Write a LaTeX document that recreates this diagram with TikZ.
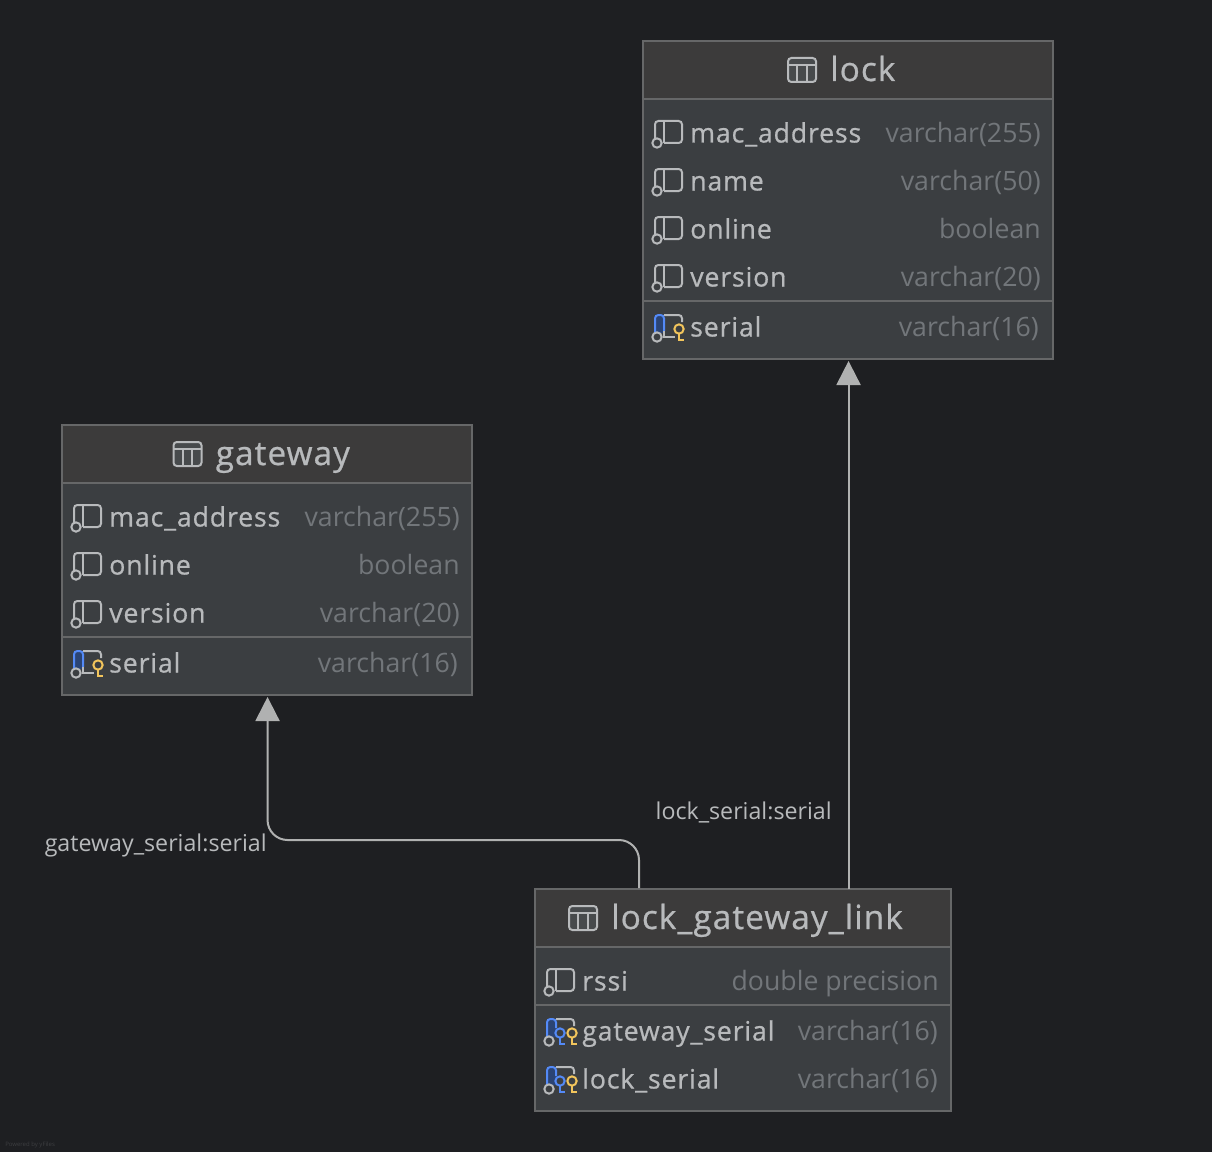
\documentclass[tikz,border=0pt]{standalone}
\usepackage{fontspec}
\setmainfont[LetterSpace=0.1]{Open Sans}
\newfontfamily\namefont[LetterSpace=3.2,FakeBold=0.7]{Open Sans}
\newfontfamily\edgefont{Open Sans}
\usetikzlibrary{arrows.meta}

\definecolor{canvas}{HTML}{1E1F22}
\definecolor{headfill}{HTML}{3C3B3B}
\definecolor{bodyfill}{HTML}{3B3E41}
\definecolor{frame}{HTML}{666768}
\definecolor{labeltext}{HTML}{B8BABC}
\definecolor{typetext}{HTML}{72767A}
\definecolor{edgeline}{HTML}{B0B1B1}
\definecolor{keyblue}{HTML}{548AF7}
\definecolor{keyfill}{HTML}{2B4474}
\definecolor{keyyellow}{HTML}{F2C55C}

\tikzset{
  tablebody/.style={draw=frame, line width=1.5pt, fill=bodyfill, inner sep=0pt, outer sep=0pt, anchor=north west},
  tablehead/.style={draw=frame, line width=1.5pt, fill=headfill, inner sep=0pt, outer sep=0pt, anchor=north west},
  titletext/.style={inner sep=0pt, anchor=base west, text=labeltext, font=\namefont\fontsize{25}{29}\selectfont},
  colname/.style={inner sep=0pt, anchor=base west, text=labeltext, font=\namefont\fontsize{20}{24}\selectfont},
  coltype/.style={inner sep=0pt, anchor=base east, text=typetext, font=\fontsize{20}{24}\selectfont},
  edgetext/.style={inner sep=0pt, text=labeltext, font=\edgefont\fontsize{17.4}{21}\selectfont},
  icon/.style={draw=labeltext, line width=1.5pt},
  relation/.style={draw=edgeline, line width=1.5pt, -{Triangle[width=18pt,length=18pt,fill=edgeline]}, shorten >=1.5pt},
}

% table frame with its title band
\newcommand{\tablebox}[5]{
  \node[tablebody, minimum width=#4*0.75pt, minimum height=#5*0.75pt] (#1) at (#2,#3) {};
  \node[tablehead, minimum width=#4*0.75pt, minimum height=58*0.75pt] (#1head) at (#2,#3) {};
}
\newcommand{\tabletitle}[4]{
  \node[titletext] (#1title) at (#3,#4+11) {#2};
  \begin{scope}[shift={(#3-42,#4)}]
    \draw[icon, fill=white!6!bodyfill, rounded corners=2.5pt] (0,-12) rectangle (28,12);
    \draw[icon] (0,-5) -- (28,-5);
    \draw[icon] (9.3,-5) -- (9.3,12);
    \draw[icon] (18.7,-5) -- (18.7,12);
  \end{scope}
}
% plain column
\newcommand{\plainicon}[2]{
  \begin{scope}[shift={(#1,#2)}]
    \draw[icon, rounded corners=2.5pt] (12,6) -- (12,-12) -- (39,-12) -- (39,10) -- (21,10);
    \draw[icon] (21,-12) -- (21,10);
    \draw[icon, fill=bodyfill] (14,10) circle (3.5pt);
  \end{scope}
}
% column with a primary key
\newcommand{\keyicon}[2]{
  \begin{scope}[shift={(#1,#2)}]
    \fill[keyfill] (12,6) -- (12,-12) -- (21,-12) -- (21,6) -- cycle;
    \draw[icon, draw=keyblue, rounded corners=2.5pt] (12,6) -- (12,-12) -- (21,-12) -- (21,4);
    \draw[icon, rounded corners=2.5pt] (21,-12) -- (39,-12) -- (39,-5);
    \draw[icon] (21,4) -- (21,10) -- (32,10);
    \draw[icon, fill=bodyfill] (14,10) circle (3.5pt);
    \draw[icon, draw=keyyellow] (36,2) circle (3.5pt);
    \draw[icon, draw=keyyellow] (36,6.5) -- (36,14) (36,12.5) -- (41,12.5);
  \end{scope}
}
% column with a primary and a foreign key
\newcommand{\bothicon}[2]{
  \begin{scope}[shift={(#1,#2)}]
    \fill[keyfill] (12,6) -- (12,-12) -- (21,-12) -- (21,-3) -- (21,6) -- cycle;
    \draw[icon, draw=keyblue, rounded corners=2.5pt] (12,6) -- (12,-12) -- (21,-12) -- (21,-3);
    \draw[icon, rounded corners=2.5pt] (21,-12) -- (39,-12) -- (39,-5);
    \draw[icon, fill=bodyfill] (14,10) circle (3.5pt);
    \draw[icon, draw=keyblue] (25,2) circle (3.5pt);
    \draw[icon, draw=keyblue] (25,6.5) -- (25,14) (25,12.5) -- (30,12.5);
    \draw[icon, draw=keyyellow] (37,2) circle (3.5pt);
    \draw[icon, draw=keyyellow] (37,6.5) -- (37,14) (37,12.5) -- (42,12.5);
  \end{scope}
}
\newcommand{\colrow}[6]{
  \node[colname] (#1name) at (#2+47,#3+9.5) {#4};
  \node[coltype] (#1type) at (#5,#3+9.5) {#6};
}

\begin{document}
\begin{tikzpicture}[x=0.75pt, y=-0.75pt]
    \fill[canvas] (0,0) rectangle (1212,1152);
    \useasboundingbox (0,0) rectangle (1212,1152);

    % lock
    \tablebox{lock}{643}{41}{410}{318}
    \tabletitle{lock}{lock}{830}{70}
    \draw[icon, draw=frame] (643,301) -- (1053,301);
    \plainicon{643}{133} \colrow{lockMac}{643}{133}{mac\_address}{1041}{varchar(255)}
    \plainicon{643}{181} \colrow{lockName}{643}{181}{name}{1041}{varchar(50)}
    \plainicon{643}{229} \colrow{lockOnline}{643}{229}{online}{1041}{boolean}
    \plainicon{643}{277} \colrow{lockVersion}{643}{277}{version}{1041}{varchar(20)}
    \keyicon{643}{327} \colrow{lockSerial}{643}{327}{serial}{1039}{varchar(16)}

    % gateway
    \tablebox{gateway}{62}{425}{410}{270}
    \tabletitle{gateway}{gateway}{215.5}{454}
    \draw[icon, draw=frame] (62,637) -- (472,637);
    \plainicon{62}{517} \colrow{gatewayMac}{62}{517}{mac\_address}{460}{varchar(255)}
    \plainicon{62}{565} \colrow{gatewayOnline}{62}{565}{online}{460}{boolean}
    \plainicon{62}{613} \colrow{gatewayVersion}{62}{613}{version}{460}{varchar(20)}
    \keyicon{62}{663} \colrow{gatewaySerial}{62}{663}{serial}{458}{varchar(16)}

    % lock_gateway_link
    \tablebox{link}{535}{889}{416}{222}
    \tabletitle{link}{lock\_gateway\_link}{611}{918}
    \draw[icon, draw=frame] (535,1005) -- (951,1005);
    \plainicon{535}{981} \colrow{linkRssi}{535}{981}{rssi}{939}{double precision}
    \bothicon{535}{1031} \colrow{linkGateway}{535}{1031}{gateway\_serial}{938}{varchar(16)}
    \bothicon{535}{1079} \colrow{linkLock}{535}{1079}{lock\_serial}{938}{varchar(16)}

    % relations
    \coordinate (gatewayStart) at (639,888);
    \draw[relation] ([xshift=0.4pt]link.north -| lock.south) -- ([xshift=0.4pt]lock.south);
    \draw[relation, rounded corners=15pt] (gatewayStart) -- (639,840) -- ([xshift=0.4pt]gateway.south |- 0,840) -- ([xshift=0.4pt]gateway.south);

    \node[edgetext, anchor=base east] (lockEdge) at (832,819) {lock\_serial:serial};
    \node[edgetext, anchor=base east] (gatewayEdge) at (267,851) {gateway\_serial:serial};

    \node[inner sep=0pt, anchor=base west, text=white!14!canvas, font=\edgefont\fontsize{4.5}{5}\selectfont] (poweredBy) at (5,1146) {Powered by yFiles};
\end{tikzpicture}
\end{document}
